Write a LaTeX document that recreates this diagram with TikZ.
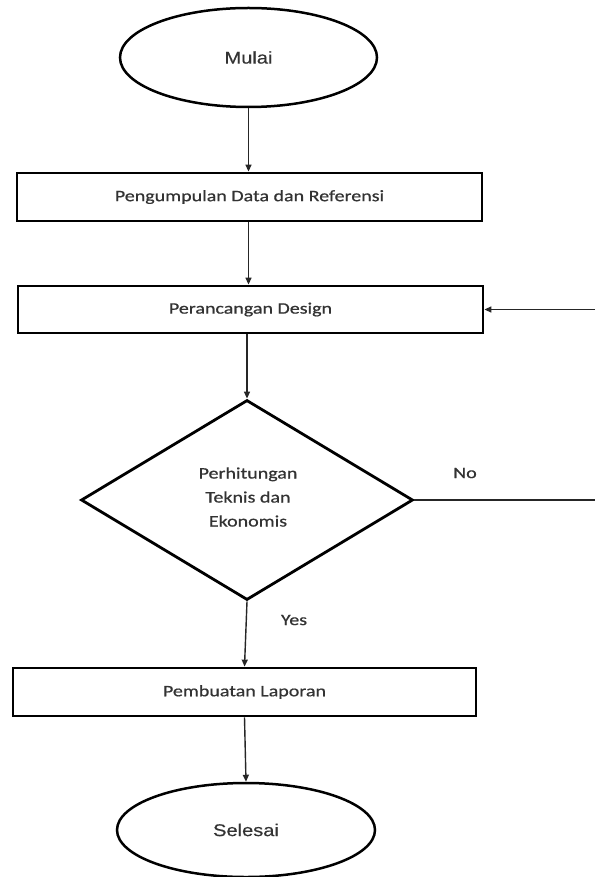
\documentclass[tikz,border=0pt]{standalone}
\usepackage{fontspec}
\newfontfamily\boxfont[FakeStretch=1.25,FakeBold=0.7]{Carlito}
\newfontfamily\termfont[FakeStretch=1.18,FakeBold=0.4]{Liberation Sans}
\usetikzlibrary{shapes.geometric,arrows.meta}
\definecolor{txt}{HTML}{333333}
\tikzset{
  procbox/.style={draw=black, line width=2.8pt, rectangle, inner sep=0pt,
    font={\boxfont\fontsize{16}{24}\selectfont}, text=txt},
  termbox/.style={draw=black, line width=2.5pt, ellipse, inner sep=0pt,
    font={\termfont\fontsize{17}{20}\selectfont}, text=txt},
  decbox/.style={draw=black, line width=2.8pt, diamond, inner sep=0pt},
  dectext/.style={align=center, inner sep=0pt,
    font={\boxfont\fontsize{16}{24}\selectfont}, text=txt},
  lbl/.style={font={\boxfont\fontsize{16}{20}\selectfont}, text=txt, inner sep=0pt},
  conn/.style={draw=black!85, line width=1.4pt, -{Triangle[length=7pt,width=6pt]}},
  plain/.style={draw=black!85, line width=1.4pt}
}
\begin{document}
\begin{tikzpicture}[x=1pt,y=-1pt]
\path[use as bounding box] (0,0) rectangle (595,877);
\node[termbox, minimum width=257pt, minimum height=99pt] (start) at (248.5,57.5) {Mulai};
\node[procbox, minimum width=465pt, minimum height=48pt] (r1) at (249.5,197) {Pengumpulan Data dan Referensi};
\node[procbox, minimum width=465pt, minimum height=47pt] (r2) at (250.5,309.5) {Perancangan Design};
\node[decbox, minimum width=332pt, minimum height=200pt] (d) at (247,500) {};
\node[dectext] (dtext) at (248,497) {Perhitungan\\Teknis dan\\Ekonomis};
\node[procbox, minimum width=463pt, minimum height=48pt] (r3) at (244.5,692) {Pembuatan Laporan};
\node[termbox, minimum width=258pt, minimum height=94pt] (end) at (246,830) {Selesai};
\node[lbl] (no) at (465,473) {No};
\node[lbl] (yes) at (294,620) {Yes};
\coordinate (noEnd) at (595,500);
\coordinate (fbStart) at (595,309.5);
\draw[conn] (start.south) -- (start.south |- r1.north);
\draw[conn] (start.south |- r1.south) -- (start.south |- r2.north);
\draw[conn] (d.north |- r2.south) -- (d.north);
\draw[conn] (d.south) -- (r3.north);
\draw[conn] (r3.south) -- (end.north);
\draw[plain] (d.east) -- (noEnd);
\draw[conn] (fbStart) -- (r2.east);
\end{tikzpicture}
\end{document}
